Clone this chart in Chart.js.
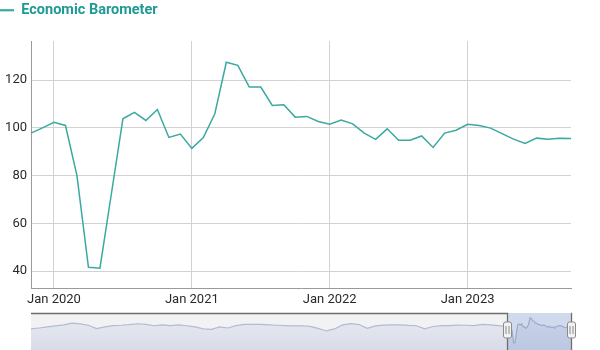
<!DOCTYPE html>
<html>
<head>
<meta charset="utf-8">
<script src="https://cdn.jsdelivr.net/npm/chart.js@4.4.1/dist/chart.umd.min.js"></script>
<style>
  html, body { margin: 0; padding: 0; background: #fff; }
  #wrap { position: relative; width: 600px; height: 350px; overflow: hidden; }
  #main { position: absolute; left: 0; top: 0; }
  #nav { position: absolute; left: 0; top: 305px; }
</style>
</head>
<body>
<div id="wrap">
  <canvas id="main" width="600" height="310"></canvas>
  <canvas id="nav" width="600" height="45"></canvas>
</div>
<script>
// Monthly categories shown in the main chart
const months = [
  'Nov 2019', 'Dec 2019',
  'Jan 2020', 'Feb 2020', 'Mar 2020', 'Apr 2020', 'May 2020', 'Jun 2020',
  'Jul 2020', 'Aug 2020', 'Sep 2020', 'Oct 2020', 'Nov 2020', 'Dec 2020',
  'Jan 2021', 'Feb 2021', 'Mar 2021', 'Apr 2021', 'May 2021', 'Jun 2021',
  'Jul 2021', 'Aug 2021', 'Sep 2021', 'Oct 2021', 'Nov 2021', 'Dec 2021',
  'Jan 2022', 'Feb 2022', 'Mar 2022', 'Apr 2022', 'May 2022', 'Jun 2022',
  'Jul 2022', 'Aug 2022', 'Sep 2022', 'Oct 2022', 'Nov 2022', 'Dec 2022',
  'Jan 2023', 'Feb 2023', 'Mar 2023', 'Apr 2023', 'May 2023', 'Jun 2023',
  'Jul 2023', 'Aug 2023', 'Sep 2023', 'Oct 2023'
];

// Economic Barometer values
const barometer = [
  97.8, 100,
  102.3, 101, 80, 41.6, 41.2, 72.5, 103.8, 106.5, 103.1, 107.7, 96, 97.4,
  91.4, 95.9, 105.9, 127.5, 126.2, 117.1, 117.1, 109.4, 109.7, 104.5, 104.8, 102.7,
  101.5, 103.3, 101.7, 97.8, 95.2, 99.6, 94.8, 94.8, 96.6, 91.8, 97.8, 99,
  101.5, 101, 99.9, 97.6, 95.3, 93.5, 95.7, 95.2, 95.6, 95.5
];

// Longer history shown in the navigator, one reading every 6 months
const navHistory = [
  90, 93, 96.5, 100, 103.5, 110, 107, 102.4, 91, 97,
  101, 102.4, 104.5, 107.6, 105.2, 100.7, 103.5, 101, 103.5, 100.7,
  96.5, 90, 88, 96.5, 93, 101, 105.2, 105.9, 105.2, 103.5,
  102.4, 101, 100, 100.7, 98.3, 91.4, 82.7, 89.6, 103.5, 108,
  104.8, 92, 100, 102.8, 103.5, 103.5, 101.7, 100.7, 90, 98,
  101, 101, 102.8, 102.4, 101, 105.2, 103.5, 101
];
const historyFirst = -348; // months before Nov 2019
const historyStep = 6;

const yTicks = [40, 60, 80, 100, 120];

const teal = '#3aa9a0';
const gridColor = '#d2d2d2';
const axisColor = '#9a9a9a';
const tickFont = { family: 'Roboto', size: 13 };

// Make the legend take up the space above the plot
const legendGap = {
  id: 'legendGap',
  beforeLayout(chart) {
    if (chart.legend && !chart.legend._gapDone) {
      const fit = chart.legend.fit;
      chart.legend.fit = function () {
        fit.call(this);
        this.height = 38;
      };
      chart.legend._gapDone = true;
    }
  }
};

new Chart(document.getElementById('main'), {
  type: 'line',
  data: {
    labels: months,
    datasets: [{
      label: 'Economic Barometer',
      data: barometer,
      borderColor: teal,
      backgroundColor: teal,
      borderWidth: 1.5,
      pointRadius: 0,
      tension: 0
    }]
  },
  options: {
    responsive: false,
    animation: false,
    devicePixelRatio: 1,
    layout: { padding: { left: 0, right: 29, top: 3, bottom: 0 } },
    plugins: {
      legend: {
        align: 'start',
        labels: {
          usePointStyle: true,
          pointStyle: 'line',
          pointStyleWidth: 14,
          padding: 0,
          color: '#1f9a94',
          font: { family: 'Roboto', size: 14.5, weight: 'bold' },
          generateLabels(chart) {
            return Chart.defaults.plugins.legend.labels.generateLabels(chart)
              .map(item => Object.assign(item, { lineWidth: 2.2 }));
          }
        }
      },
      tooltip: { enabled: false }
    },
    scales: {
      x: {
        grid: { color: gridColor, drawTicks: false },
        border: { color: axisColor },
        ticks: {
          padding: 4,
          maxRotation: 0,
          autoSkip: false,
          color: '#2a2a2a',
          font: tickFont,
          callback(value) { return this.getLabelForValue(value); }
        },
        afterBuildTicks(scale) {
          scale.ticks = scale.ticks.filter(t => months[t.value].startsWith('Jan'));
        },
        afterFit(scale) { scale.height = 22; }
      },
      y: {
        min: 32.9,
        max: 136.4,
        grid: { color: gridColor, drawTicks: false },
        border: { color: axisColor },
        ticks: { padding: 4, color: '#2a2a2a', font: tickFont },
        afterBuildTicks(scale) {
          scale.ticks = yTicks.map(v => ({ value: v }));
        },
        afterFit(scale) { scale.width = 31; }
      }
    }
  },
  plugins: [legendGap]
});

// Navigator below the chart
const navPoints = navHistory.map((v, i) => ({ x: historyFirst + i * historyStep, y: v }))
  .concat(barometer.map((v, i) => ({ x: i, y: v })));

const navigatorFrame = {
  id: 'navigatorFrame',
  beforeDatasetsDraw(chart) {
    const { ctx, chartArea: a, scales: { x } } = chart;
    const selL = x.getPixelForValue(0);
    ctx.save();
    ctx.fillStyle = '#f2f2f5';
    ctx.fillRect(a.left, a.top, selL - a.left, a.bottom - a.top);
    ctx.restore();
  },
  afterDatasetsDraw(chart) {
    const { ctx, chartArea: a, scales: { x } } = chart;
    const selL = Math.round(x.getPixelForValue(0)) + 0.5;
    const selR = Math.round(x.getPixelForValue(barometer.length - 1)) + 0.5;
    const top = a.top + 0.5;
    ctx.save();
    ctx.fillStyle = 'rgba(102,133,194,0.3)';
    ctx.fillRect(selL, a.top, selR - selL, a.bottom - a.top);

    ctx.strokeStyle = '#6e6e6e';
    ctx.lineWidth = 1.3;
    ctx.beginPath();
    ctx.moveTo(a.left, top);
    ctx.lineTo(selL, top);
    ctx.lineTo(selL, a.bottom + 2);
    ctx.moveTo(selR, a.bottom + 2);
    ctx.lineTo(selR, top);
    ctx.lineTo(a.right, top);
    ctx.stroke();

    // drag handles
    const cy = a.top + 17;
    [selL, selR].forEach(hx => {
      ctx.fillStyle = '#f2f2f2';
      ctx.strokeStyle = '#8a8a8a';
      ctx.lineWidth = 1;
      ctx.beginPath();
      ctx.roundRect(hx - 4, cy - 8, 8, 16, 2);
      ctx.fill();
      ctx.stroke();
      ctx.beginPath();
      ctx.moveTo(hx - 1.5, cy - 4);
      ctx.lineTo(hx - 1.5, cy + 4);
      ctx.moveTo(hx + 1.5, cy - 4);
      ctx.lineTo(hx + 1.5, cy + 4);
      ctx.stroke();
    });
    ctx.restore();
  }
};

new Chart(document.getElementById('nav'), {
  type: 'line',
  data: {
    datasets: [{
      data: navPoints,
      borderColor: '#b2bbd2',
      borderWidth: 1.2,
      pointRadius: 0,
      tension: 0,
      fill: 'start',
      backgroundColor(context) {
        const a = context.chart.chartArea;
        if (!a) return 'rgba(160,172,205,0.2)';
        const g = context.chart.ctx.createLinearGradient(0, a.top, 0, a.bottom);
        g.addColorStop(0, 'rgba(185,193,218,0.15)');
        g.addColorStop(1, 'rgba(160,170,205,0.32)');
        return g;
      }
    }]
  },
  options: {
    responsive: false,
    animation: false,
    devicePixelRatio: 1,
    layout: { padding: { left: 31, right: 29, top: 8, bottom: 0 } },
    plugins: { legend: { display: false }, tooltip: { enabled: false } },
    scales: {
      x: { type: 'linear', min: historyFirst, max: barometer.length - 1, display: false },
      y: { min: 16.8, max: 144.8, display: false }
    }
  },
  plugins: [navigatorFrame]
});
</script>
</body>
</html>
